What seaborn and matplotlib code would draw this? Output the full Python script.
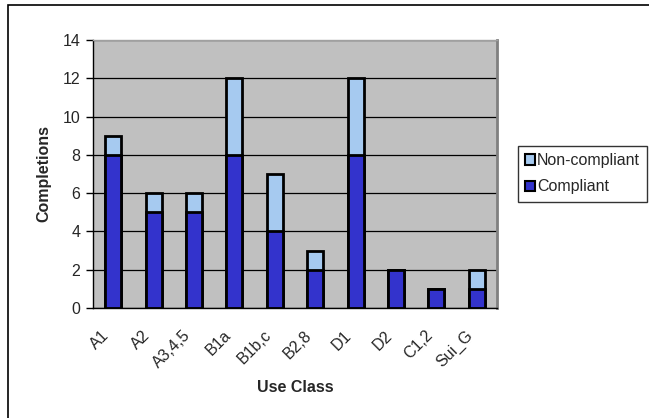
import matplotlib
matplotlib.use("Agg")
import matplotlib.pyplot as plt
from matplotlib.patches import Patch, Rectangle
import seaborn as sns
import pandas as pd
import numpy as np

# Completions by use class
use_classes = ["A1", "A2", "A3,4,5", "B1a", "B1b,c", "B2,8", "D1", "D2", "C1,2", "Sui_G"]
compliant = [8, 5, 5, 8, 4, 2, 8, 2, 1, 1]
non_compliant = [1, 1, 1, 4, 3, 1, 4, 0, 0, 1]
y_ticks = [0, 2, 4, 6, 8, 10, 12, 14]

dark_blue = "#3333CC"
light_blue = "#A6CAF0"
plot_bg = "#C0C0C0"
FS = 11.5

df = pd.DataFrame({
    "use_class": use_classes,
    "compliant": compliant,
    "non_compliant": non_compliant,
})
df["total"] = df["compliant"] + df["non_compliant"]

sns.set_style("white")
plt.rcParams["font.family"] = ["Liberation Sans", "DejaVu Sans"]

W, H = 649, 418
fig = plt.figure(figsize=(W / 100, H / 100), dpi=100)
ax = fig.add_axes([93 / W, 1 - 308 / H, (497 - 93) / W, (308 - 40) / H])
ax.set_facecolor(plot_bg)
ax.set_axisbelow(True)

bar_kw = dict(width=0.4, edgecolor="black", linewidth=2.0, ax=ax, order=use_classes)
# stacked: full height in light blue, compliant part drawn over it
sns.barplot(data=df, x="use_class", y="total", color=light_blue, saturation=1, **bar_kw)
sns.barplot(data=df, x="use_class", y="compliant", color=dark_blue, saturation=1, **bar_kw)

ax.set_xlim(-0.5, len(use_classes) - 0.5)
ax.set_ylim(0, 14)
ax.set_yticks(y_ticks)
ax.set_yticklabels([str(t) for t in y_ticks], fontsize=FS)
ax.yaxis.grid(True, color="black", linewidth=0.9)
ax.xaxis.grid(False)

# category labels: rotated, ending just left of each category centre
ax.set_xticks(range(len(use_classes)))
ax.set_xticklabels([])
ax.tick_params(axis="x", which="major", length=0)
for i, name in enumerate(use_classes):
    ax.annotate(name, xy=(i, 0), xycoords=("data", "axes fraction"),
                xytext=(-4.5, -18), textcoords="offset points",
                rotation=45, rotation_mode="anchor", ha="right", va="center",
                fontsize=FS, annotation_clip=False)

ax.set_xticks(np.arange(-0.5, len(use_classes), 1.0), minor=True)
ax.tick_params(axis="x", which="minor", length=5, width=1, color="black", direction="out")
ax.tick_params(axis="y", length=5, width=1, color="black", direction="out", pad=4, left=True)

ax.set_xlabel("Use Class", fontsize=FS, fontweight="bold")
ax.set_ylabel("Completions", fontsize=FS, fontweight="bold")
ax.xaxis.set_label_coords(0.5, (308 - 388) / 268)
ax.xaxis.label.set_va("center")
ax.yaxis.set_label_coords((44 - 93) / 404, 0.5)
ax.yaxis.label.set_va("center")

for side in ("left", "bottom"):
    ax.spines[side].set_color("black")
    ax.spines[side].set_linewidth(1.0)
ax.spines["top"].set_color("#A0A0A0")
ax.spines["top"].set_linewidth(1.0)
ax.spines["right"].set_color("#808080")
ax.spines["right"].set_linewidth(2.0)

handles = [
    Patch(facecolor=light_blue, edgecolor="black", linewidth=1.5, label="Non-compliant"),
    Patch(facecolor=dark_blue, edgecolor="black", linewidth=1.5, label="Compliant"),
]
leg = fig.legend(handles=handles, loc="upper left",
                 bbox_to_anchor=(518 / W, 1 - 146 / H), fontsize=FS,
                 frameon=True, fancybox=False, borderaxespad=0,
                 handlelength=0.6, handleheight=0.6, handletextpad=0.15,
                 labelspacing=0.7, borderpad=0.45)
leg.get_frame().set_edgecolor("black")
leg.get_frame().set_linewidth(1.0)

# chart border
fig.patches.append(Rectangle((8 / W, -0.1), 1.2, 1.1 - 5 / H,
                             transform=fig.transFigure, fill=False,
                             edgecolor="black", linewidth=1.2))

fig.savefig("out.png", dpi=100, facecolor="white")
